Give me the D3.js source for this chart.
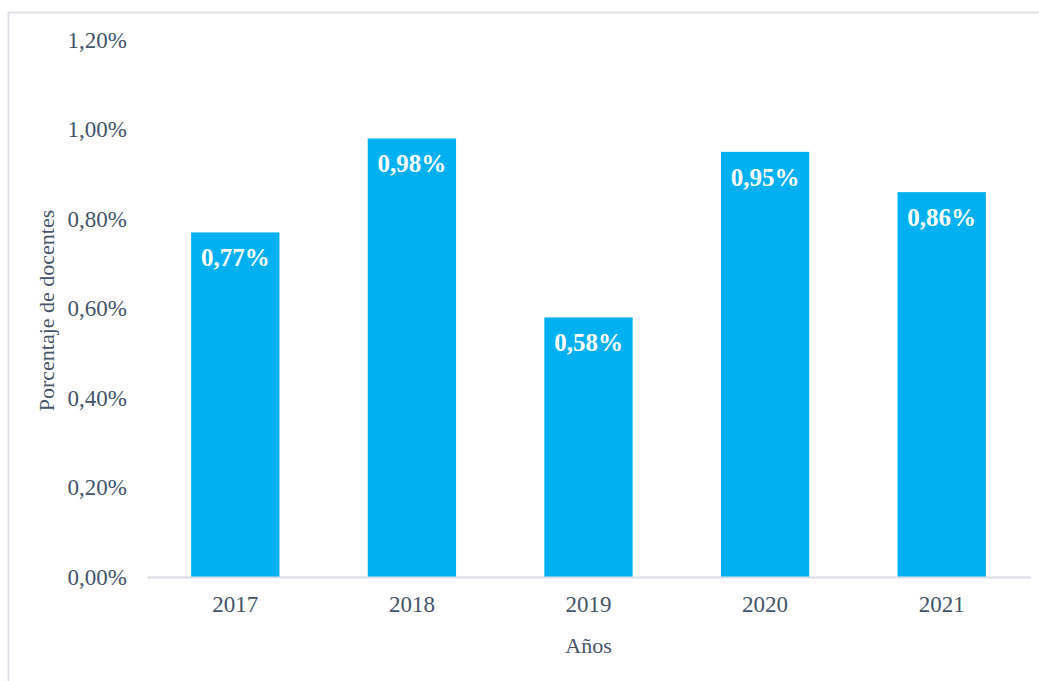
<!DOCTYPE html>
<html><head><meta charset="utf-8">
<script src="https://cdn.jsdelivr.net/npm/d3@7"></script>
<style>html,body{margin:0;padding:0;background:#fff;}svg{display:block;}</style>
</head><body>
<svg id="c" width="1039" height="681"></svg>
<script>
const years = ["2017","2018","2019","2020","2021"];
const values = [0.77, 0.98, 0.58, 0.95, 0.86];
const yTicks = [0, 0.2, 0.4, 0.6, 0.8, 1.0, 1.2];
const yTitle = "Porcentaje de docentes";
const xTitle = "Años";

const svg = d3.select("#c");
const W = 1039, H = 681;
const m = {left:147, right:9, top:40, bottom:104};
const fmt = v => d3.format(".2f")(v).replace(".", ",") + "%";
const font = "'Liberation Serif', 'Times New Roman', serif";
const textCol = "#44546a";

svg.append("rect").attr("x",8.5).attr("y",12.5).attr("width",W+20).attr("height",H+20)
  .attr("fill","none").attr("stroke","#dde1e8").attr("stroke-width",2);

const x = d3.scaleBand().domain(years).range([m.left, W - m.right]).paddingInner(0.5).paddingOuter(0.25);
const y = d3.scaleLinear().domain([0, 1.2]).range([H - m.bottom, m.top]);

const yAxis = svg.append("g").attr("transform",`translate(${m.left},0)`)
  .call(d3.axisLeft(y).tickValues(yTicks).tickFormat(fmt).tickSize(0).tickPadding(20));
yAxis.select(".domain").remove();
yAxis.selectAll("text").attr("font-family",font).attr("font-size",23).attr("fill",textCol);

svg.selectAll("rect.bar").data(years).enter().append("rect").attr("class","bar")
  .attr("x", d => x(d)).attr("width", x.bandwidth())
  .attr("y", (d,i) => y(values[i])).attr("height", (d,i) => y(0) - y(values[i]))
  .attr("fill","#00b0f0");

const xAxis = svg.append("g").attr("transform",`translate(0,${y(0)})`)
  .call(d3.axisBottom(x).tickSize(0).tickPadding(19));
xAxis.select(".domain").attr("stroke","#d9dee6").attr("stroke-width",2);
xAxis.selectAll("text").attr("font-family",font).attr("font-size",23).attr("fill",textCol);

svg.selectAll("text.lbl").data(years).enter().append("text").attr("class","lbl")
  .attr("x", d => x(d) + x.bandwidth()/2)
  .attr("y", (d,i) => y(values[i]) + 34)
  .attr("text-anchor","middle").attr("font-family",font).attr("font-weight","bold")
  .attr("font-size",25).attr("fill","#fff")
  .text((d,i) => fmt(values[i]));

svg.append("text").attr("x", (m.left + W - m.right)/2).attr("y", 653)
  .attr("text-anchor","middle").attr("font-family",font).attr("font-size",22).attr("fill",textCol)
  .text(xTitle);

svg.append("text").attr("transform",`translate(54,${(m.top + H - m.bottom)/2 + 2}) rotate(-90)`)
  .attr("text-anchor","middle").attr("font-family",font).attr("font-size",22).attr("fill",textCol)
  .text(yTitle);
</script>
</body></html>
